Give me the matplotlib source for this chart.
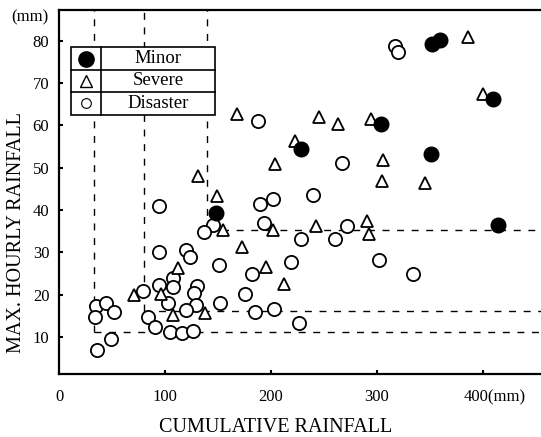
import matplotlib
matplotlib.use("Agg")
import matplotlib.pyplot as plt
import matplotlib.transforms as mtransforms
from matplotlib.patches import Rectangle
from matplotlib.lines import Line2D

plt.rcParams['font.family'] = ['Liberation Serif', 'DejaVu Serif']

# ---- data ----
minor_x = [352, 359, 409, 304, 228, 351, 148, 414]
minor_y = [79.2, 80.2, 66.3, 60.3, 54.4, 53.2, 39.4, 36.5]

severe_x = [386, 400, 245, 263, 294, 223, 306, 305, 345, 168, 204, 131, 149,
            155, 202, 173, 195, 212, 112, 138, 108, 242, 291, 292, 71, 96]
severe_y = [80.9, 67.4, 61.9, 60.3, 61.5, 56.4, 51.8, 46.9, 46.5, 62.7, 50.9, 48.1, 43.3,
            35.3, 35.3, 31.2, 26.5, 22.5, 26.4, 15.7, 15.2, 36.3, 37.4, 34.3, 20.0, 20.1]

disaster_x = [317, 320, 188, 267, 240, 272, 228, 260, 219, 302, 334, 190, 202, 193,
              145, 137, 120, 124, 151, 182, 175, 152, 130, 127, 129, 185, 203, 226,
              108, 108, 103, 120, 94, 94, 94, 79, 84, 91, 105, 116, 126,
              35, 44, 52, 34, 49, 36]
disaster_y = [78.8, 77.3, 61.1, 51.1, 43.6, 36.3, 33.2, 33.1, 27.8, 28.3, 25.0, 41.4, 42.6, 37.0,
              36.5, 34.9, 30.6, 29.0, 27.1, 25.0, 20.2, 18.1, 22.1, 20.3, 17.5, 16.0, 16.5, 13.4,
              23.9, 21.8, 18.0, 16.4, 41.0, 30.2, 22.3, 20.9, 14.8, 12.3, 11.1, 11.0, 11.3,
              17.3, 18.1, 16.0, 14.8, 9.5, 6.9]

# threshold boxes: (x start, y level)
thr_x = [33, 80, 140]
thr_y = [11.2, 16.1, 35.3]

x_ticks = [0, 100, 200, 300, 400]
x_ticklabels = ['0', '100', '200', '300', '400(mm)']
y_ticks = [10, 20, 30, 40, 50, 60, 70, 80]
y_ticklabels = ['10', '20', '30', '40', '50', '60', '70', '80']

categories = ['Minor', 'Severe', 'Disaster']

# ---- figure ----
W, H = 541, 437
fig = plt.figure(figsize=(W / 100, H / 100), dpi=100)
ax = fig.add_axes([59 / W, 1 - 374 / H, (541 - 59) / W, (374 - 10) / H])
xmax, ymax = 454.7, 87.3
ax.set_xlim(0, xmax)
ax.set_ylim(1.25, ymax)

# dashed threshold lines
for tx, ty in zip(thr_x, thr_y):
    ax.plot([tx, tx], [ty, ymax], color='black', lw=1.0, dashes=(5, 5.5), zorder=1)
    ax.plot([tx, xmax], [ty, ty], color='black', lw=1.0, dashes=(5, 5.5), zorder=1)

# points
ax.plot(disaster_x, disaster_y, linestyle='none', marker='o', ms=9.5, mfc='white',
        mec='black', mew=1.3, zorder=3)
ax.plot(severe_x, severe_y, linestyle='none', marker='^', ms=9.0, mfc='white',
        mec='black', mew=1.3, zorder=4)
ax.plot(minor_x, minor_y, linestyle='none', marker='o', ms=10.5, mfc='black',
        mec='black', mew=1.0, zorder=5)

# spines / ticks
ax.spines['right'].set_visible(False)
for s in ['left', 'bottom', 'top']:
    ax.spines[s].set_linewidth(1.6)
ax.set_xticks(x_ticks)
ax.set_xticklabels(x_ticklabels)
ax.set_yticks(y_ticks)
ax.set_yticklabels(y_ticklabels)
ax.tick_params(direction='in', length=3, width=1.5, labelsize=12)
ax.tick_params(axis='x', pad=11)
ax.tick_params(axis='y', pad=7)
lab = ax.get_xticklabels()[-1]
lab.set_transform(lab.get_transform() + mtransforms.ScaledTranslation(12 / 100, 0, fig.dpi_scale_trans))

# legend table
lx0, lx1, lx2 = 0.0249, 0.0871, 0.3237
ly = [0.898, 0.835, 0.775, 0.7115]
ax.add_patch(Rectangle((lx0, ly[3]), lx2 - lx0, ly[0] - ly[3], transform=ax.transAxes,
                       facecolor='white', edgecolor='black', lw=1.2, zorder=6))
ax.add_line(Line2D([lx1, lx1], [ly[3], ly[0]], transform=ax.transAxes, color='black', lw=1.2, zorder=7))
for yy in ly[1:3]:
    ax.add_line(Line2D([lx0, lx2], [yy, yy], transform=ax.transAxes, color='black', lw=1.2, zorder=7))
leg_styles = [dict(marker='o', ms=11, mfc='black', mec='black'),
              dict(marker='^', ms=8, mfc='white', mec='black', mew=1.0),
              dict(marker='o', ms=7, mfc='white', mec='black', mew=0.8)]
for i, (cat, st) in enumerate(zip(categories, leg_styles)):
    yc = (ly[i] + ly[i + 1]) / 2
    ax.plot([(lx0 + lx1) / 2], [yc], transform=ax.transAxes, linestyle='none', zorder=8, clip_on=False, **st)
    ax.text((lx1 + lx2) / 2, yc, cat, transform=ax.transAxes, ha='center', va='center',
            fontsize=13.5, zorder=8)

# labels
fig.text(30 / W, 1 - 17 / H, '(mm)', ha='center', va='center', fontsize=12)
fig.text(17 / W, 1 - 233 / H, 'MAX. HOURLY RAINFALL', rotation=90, ha='center', va='center', fontsize=14.5)
fig.text(276 / W, 1 - 428 / H, 'CUMULATIVE RAINFALL', ha='center', va='center', fontsize=14.5)

fig.savefig('out.png', dpi=100)
